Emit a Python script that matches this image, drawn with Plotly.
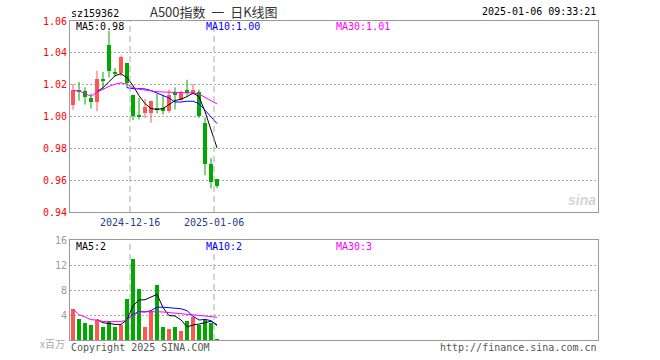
import plotly.graph_objects as go

# ---------------- data ----------------
dates = ['2024-12-02', '2024-12-03', '2024-12-04', '2024-12-05', '2024-12-06',
         '2024-12-09', '2024-12-10', '2024-12-11', '2024-12-12', '2024-12-13',
         '2024-12-16', '2024-12-17', '2024-12-18', '2024-12-19', '2024-12-20',
         '2024-12-23', '2024-12-24', '2024-12-25', '2024-12-26', '2024-12-27',
         '2024-12-30', '2024-12-31', '2025-01-02', '2025-01-03', '2025-01-06']
open_ = [1.0071, 1.0169, 1.0158, 1.0117, 1.0090, 1.0238, 1.0450, 1.0281, 1.0273, 1.0336,
         1.0138, 1.0006, 1.0019, 1.0019, 1.0054, 1.0054, 1.0033, 1.0154, 1.0106, 1.0169,
         1.0144, 1.0154, 0.9961, 0.9700, 0.9606]
high = [1.0204, 1.0217, 1.0183, 1.0144, 1.0288, 1.0279, 1.0538, 1.0304, 1.0383, 1.0336,
        1.0138, 1.0117, 1.0111, 1.0100, 1.0142, 1.0138, 1.0169, 1.0183, 1.0163, 1.0231,
        1.0204, 1.0169, 0.9994, 0.9738, 0.9606]
low = [1.0044, 1.0100, 1.0075, 1.0050, 1.0033, 1.0169, 1.0246, 1.0252, 1.0252, 1.0179,
       0.9977, 0.9981, 0.9992, 0.9961, 1.0019, 1.0013, 1.0023, 1.0044, 1.0100, 1.0131,
       1.0138, 0.9992, 0.9631, 0.9548, 0.9550]
close = [1.0169, 1.0158, 1.0123, 1.0090, 1.0236, 1.0221, 1.0283, 1.0273, 1.0371, 1.0211,
         1.0006, 1.0002, 1.0058, 1.0096, 1.0044, 1.0036, 1.0138, 1.0138, 1.0154, 1.0148,
         1.0169, 1.0002, 0.9700, 0.9586, 0.9561]
ma5 = [None, None, None, None, 1.0156, 1.0181, 1.0219, 1.0256, 1.0269, 1.0244,
       1.0194, 1.0131, 1.0081, 1.0050, 1.0044, 1.0050, 1.0075, 1.0100, 1.0109, 1.0125,
       1.0147, 1.0125, 1.0031, 0.9913, 0.9803]
ma10 = [None, None, None, None, None, None, None, None, None, 1.0181,
        1.0175, 1.0175, 1.0173, 1.0163, 1.0147, 1.0134, 1.0116, 1.0091, 1.0091, 1.0096,
        1.0096, 1.0081, 1.0038, 0.9994, 0.9956]
ma30 = [1.0164, 1.0161, 1.0144, 1.0127, 1.0153, 1.0172, 1.0189, 1.0203, 1.0211, 1.0203,
        1.0181, 1.0172, 1.0166, 1.0159, 1.0156, 1.0154, 1.0153, 1.0152, 1.0150, 1.0150,
        1.0148, 1.0141, 1.0119, 1.0096, 1.0079]
volume = [4.96, 3.36, 2.72, 2.40, 3.15, 2.08, 3.04, 2.08, 2.40, 6.56,
          12.96, 8.16, 2.08, 4.64, 8.80, 2.08, 1.76, 2.08, 1.44, 3.04,
          3.68, 2.40, 3.36, 2.72, 0.16]
vol_ma5 = [None, None, None, None, 3.3, 2.75, 2.65, 2.5, 2.5, 3.2,
           5.5, 6.4, 6.45, 6.9, 7.3, 5.2, 3.9, 3.85, 3.2, 2.1,
           2.4, 2.55, 2.8, 3.0, 2.45]
vol_ma10 = [None, None, None, None, None, None, None, None, None, 3.3,
            4.1, 4.55, 4.5, 4.7, 5.25, 5.25, 5.15, 5.15, 5.0, 4.7,
            3.8, 3.2, 3.3, 3.1, 2.3]
vol_ma30 = [4.96, 4.05, 3.68, 3.25, 3.2, 2.95, 2.93, 2.93, 2.95, 3.2,
            3.95, 4.48, 4.53, 4.53, 4.53, 4.48, 4.4, 4.3, 4.2, 4.1,
            4.0, 3.9, 3.85, 3.75, 3.63]
price_ticks = [0.94, 0.96, 0.98, 1.00, 1.02, 1.04, 1.06]
vol_ticks = [4, 8, 12, 16]
date_marks = ['2024-12-16', '2025-01-06']
ma_labels = ['MA5:0.98', 'MA10:1.00', 'MA30:1.01']
vol_ma_labels = ['MA5:2', 'MA10:2', 'MA30:3']

# ---------------- styling ----------------
RED = '#FF5555'
GREEN = '#00A800'
MONO = 'DejaVu Sans Mono, Liberation Mono, monospace'
CJK = 'Noto Sans CJK SC, DejaVu Sans Mono'
W, H = 660, 360
L, R, T, B = 70, 62, 21, 20
PW, PH = W - L - R, H - T - B


def px(x):
    return (x - L) / PW


def py(y):
    return (H - B - y) / PH


xs = list(range(len(dates)))
up = [c >= o for o, c in zip(open_, close)]
colors = [RED if u else GREEN for u in up]
MIN_BODY = 0.0006
bases = [min(o, c) for o, c in zip(open_, close)]
heights = [max(abs(c - o), MIN_BODY) for o, c in zip(open_, close)]

fig = go.Figure()

# wicks
for flag, col in [(True, RED), (False, GREEN)]:
    wx, wy = [], []
    for i in xs:
        if up[i] == flag:
            wx += [i, i, None]
            wy += [low[i], high[i], None]
    fig.add_trace(go.Scatter(x=wx, y=wy, mode='lines', line=dict(color=col, width=1),
                             xaxis='x', yaxis='y', hoverinfo='skip', showlegend=False))

# bodies
fig.add_trace(go.Bar(x=xs, y=heights, base=bases, width=0.83,
                     marker=dict(color=colors, line=dict(width=0)),
                     xaxis='x', yaxis='y', showlegend=False))

# MA lines (price)
for arr, col in [(ma5, '#000000'), (ma10, '#0000FF'), (ma30, '#FF00FF')]:
    fig.add_trace(go.Scatter(x=xs, y=arr, mode='lines', line=dict(color=col, width=1),
                             xaxis='x', yaxis='y', showlegend=False, connectgaps=False))

# volume bars
fig.add_trace(go.Bar(x=xs, y=volume, width=0.83,
                     marker=dict(color=colors, line=dict(width=0)),
                     xaxis='x2', yaxis='y2', showlegend=False))
for arr, col in [(vol_ma5, '#000000'), (vol_ma10, '#0000FF'), (vol_ma30, '#FF00FF')]:
    fig.add_trace(go.Scatter(x=xs, y=arr, mode='lines', line=dict(color=col, width=1),
                             xaxis='x2', yaxis='y2', showlegend=False))

main_dom = [py(212), 1.0]
vol_dom = [0.0, py(240)]

axis_common = dict(showline=True, mirror=True, linecolor='#999999', linewidth=1,
                   zeroline=False, ticks='')
grid = dict(showgrid=True, gridcolor='#AAAAAA', griddash='2px,2px', gridwidth=1)

fig.update_layout(
    width=W, height=H,
    margin=dict(l=L, r=R, t=T, b=B),
    paper_bgcolor='white', plot_bgcolor='white',
    showlegend=False,
    bargap=0,
    xaxis=dict(domain=[0, 1], range=[-0.5, 87.5], showticklabels=False, showgrid=False,
               anchor='y', **axis_common),
    xaxis2=dict(domain=[0, 1], range=[-0.5, 87.5], showticklabels=False, showgrid=False,
                anchor='y2', matches='x', **axis_common),
    yaxis=dict(domain=main_dom, range=[0.94, 1.06], tickvals=price_ticks,
               ticktext=['%.2f' % v for v in price_ticks],
               tickfont=dict(family=MONO, size=10, color='#FF0000'),
               anchor='x', **grid, **axis_common),
    yaxis2=dict(domain=vol_dom, range=[0, 16], tickvals=vol_ticks,
                ticktext=[str(v) for v in vol_ticks],
                tickfont=dict(family=MONO, size=10, color='#999999'),
                anchor='x2', **grid, **axis_common),
)

# vertical dashed date lines
for d in date_marks:
    xi = dates.index(d) - 0.5
    for yr in ['y domain', 'y2 domain']:
        fig.add_shape(type='line', xref='x', yref=yr, x0=xi, x1=xi, y0=0, y1=1,
                      line=dict(color='#AAAAAA', width=1, dash='6px,4px'), layer='above')
    fig.add_annotation(x=xi, xref='x', y=py(222), yref='paper', text=d, showarrow=False,
                       font=dict(family=MONO, size=10, color='#1F3B8C'),
                       xanchor='center', yanchor='middle')


def label(text, x, y, color, size=10, family=MONO, xanchor='left'):
    fig.add_annotation(x=px(x), y=py(y), xref='paper', yref='paper', text=text,
                       showarrow=False, xanchor=xanchor, yanchor='middle',
                       font=dict(family=family, size=size, color=color))


label('sz159362', 69, 13, '#000000', size=10)
label('A500指数&nbsp;&nbsp;一&nbsp;&nbsp;日K线图', 214, 12, '#333333', size=13,
      family=CJK, xanchor='center')
label('2025-01-06 09:33:21', 598, 12, '#000000', size=10, xanchor='right')

ma_cols = ['#000000', '#0000FF', '#FF00FF']
for t, xpos, col in zip(ma_labels, [74, 204, 334], ma_cols):
    label(t, xpos, 27, col)
for t, xpos, col in zip(vol_ma_labels, [74, 204, 334], ma_cols):
    label(t, xpos, 246, col)

label('x百万', 67, 343, '#AAAAAA', size=10, family=CJK, xanchor='right')
label('Copyright 2025 SINA.COM', 69, 348, '#555555', size=10)
label('http://finance.sina.com.cn', 599, 348, '#555555', size=10, xanchor='right')
label('<b><i>sina</i></b>', 598, 200, '#D5D5D5', size=14, family='Arial, Liberation Sans',
      xanchor='right')

fig.write_html('out.html', config={'displayModeBar': False},
               post_script="document.body.style.margin='0';")
